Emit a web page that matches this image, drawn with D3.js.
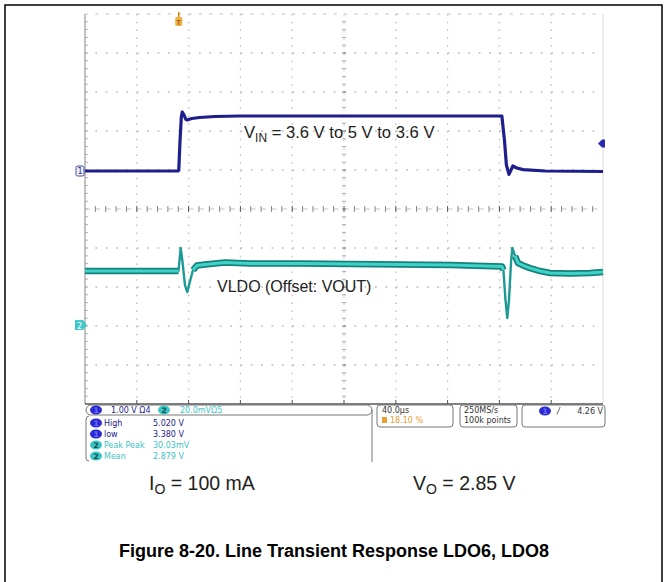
<!DOCTYPE html>
<html><head><meta charset="utf-8">
<script src="https://cdn.jsdelivr.net/npm/d3@7"></script>
<style>html,body{margin:0;padding:0;background:#fff;} svg{display:block;}</style>
</head><body><svg id="c" width="668" height="582"></svg>
<script>
// ---------- data ----------
// Channel 1: VIN, time in µs (40 µs/div, trigger at 18.10 %), volts
const vinTime  = [-72.4, -0.6, 0, 1.0, 2.0, 2.7, 4.0, 5.5, 6.5, 10, 16, 28, 47, 100, 150, 200, 249.5, 251.5, 253, 255, 258, 261, 266, 283, 327.6];
const vinVolts = [3.38, 3.38, 3.40, 4.30, 5.00, 5.14, 5.05, 4.92, 4.90, 4.945, 4.975, 5.005, 5.02, 5.02, 5.02, 5.02, 5.02, 4.30, 3.56, 3.28, 3.53, 3.47, 3.42, 3.38, 3.365];
// Channel 2: VLDO (offset VOUT), mV above channel-2 reference, 20 mV/div
const vldoTime = [-72.4, -1.4, -0.2, 1.5, 2.9, 4.8, 6.6, 8.3, 11, 14, 20.2, 35.7, 55, 93.6, 132.2, 170.8, 209.4, 249.6, 250.7, 252.3, 253.7, 255, 256.6, 257.6, 259.7, 262, 266.6, 271.3, 279, 286.7, 302.2, 317.6, 327.6];
const vldoMv   = [27.7, 27.7, 27.7, 39.5, 32.3, 20.5, 16.9, 21.5, 28.2, 30.5, 31.0, 32.1, 31.5, 31.5, 31.3, 31.0, 30.8, 30.0, 28.2, 12.8, 3.6, 12.8, 32.3, 39.5, 35.4, 31.8, 30.3, 29.2, 27.7, 26.7, 26.4, 26.7, 27.2];
// fast transient windows (µs) drawn as a thin line instead of the noise band
const spikeWindows = [[-0.2, 11], [250.7, 259.7]];

const chanSettings = ["1.00 V Ω4", "20.0mVΩ5"];
const measChannel  = [1, 1, 2, 2];
const measLabels   = ["High", "low", "Peak  Peak", "Mean"];
const measValues   = ["5.020 V", "3.380 V", "30.03mV", "2.879 V"];
const timeBase     = ["40.0µs", "18.10 %"];
const acqInfo      = ["250MS/s", "100k points"];
const trigLevel    = "4.26 V";

const annoVin  = {main: "V", sub: "IN", rest: " = 3.6 V to 5 V to 3.6 V"};
const annoVldo = "VLDO (Offset: VOUT)";
const condIo   = {main: "I", sub: "O", rest: " = 100 mA"};
const condVo   = {main: "V", sub: "O", rest: " = 2.85 V"};
const caption  = "Figure 8-20. Line Transient Response LDO6, LDO8";

// ---------- scales ----------
const L = 85, R = 603, T = 14, B = 404;
const svg = d3.select("#c");
svg.append("rect").attr("width", 668).attr("height", 582).attr("fill", "#fff");

const xDiv = d3.scaleLinear().domain([0, 10]).range([L, R]);
const yDiv = d3.scaleLinear().domain([0, 10]).range([B, T]);
const x = d3.scaleLinear().domain([-72.4, 327.6]).range([L, R]);
const y1 = d3.scaleLinear().domain([-3.567, 8.061]).range([B, T]);
const y2 = d3.scaleLinear().domain([-40.5, 159.5]).range([B, T]);

// outer figure border
svg.append("path").attr("d", "M5,582V5H662V582").attr("fill", "none").attr("stroke", "#000").attr("stroke-width", 1.5);

// ---------- graticule ----------
const g = svg.append("g");
const stepX = (R - L) / 50, stepY = (B - T) / 50;
d3.range(1, 10).filter(i => i !== 5).forEach(i => {
  g.append("line").attr("x1", xDiv(i)).attr("x2", xDiv(i)).attr("y1", T).attr("y2", B)
    .attr("stroke", "#bdbdbd").attr("stroke-width", 1.3).attr("stroke-dasharray", `1.5 ${stepY - 1.5}`);
  g.append("line").attr("y1", yDiv(i)).attr("y2", yDiv(i)).attr("x1", L).attr("x2", R)
    .attr("stroke", "#bdbdbd").attr("stroke-width", 1.3).attr("stroke-dasharray", `1.8 ${stepX - 1.8}`);
});
g.append("line").attr("x1", L).attr("x2", R).attr("y1", T).attr("y2", T)
  .attr("stroke", "#bdbdbd").attr("stroke-width", 1.2).attr("stroke-dasharray", `3 ${stepX - 3}`);
g.append("line").attr("x1", R).attr("x2", R).attr("y1", T).attr("y2", B).attr("stroke", "#dcdcdc");
// center lines with ticks
g.append("line").attr("x1", L).attr("x2", R).attr("y1", yDiv(5)).attr("y2", yDiv(5))
  .attr("stroke", "#c4c4c4").attr("stroke-dasharray", "5 5.36");
g.append("line").attr("x1", xDiv(5)).attr("x2", xDiv(5)).attr("y1", T).attr("y2", B)
  .attr("stroke", "#cfcfcf").attr("stroke-dasharray", "3 4.8");
d3.range(1, 50).forEach(k => {
  g.append("line").attr("x1", L + k * stepX).attr("x2", L + k * stepX).attr("y1", yDiv(5) - 3).attr("y2", yDiv(5) + 3)
    .attr("stroke", k % 5 === 0 ? "#555" : "#888").attr("stroke-width", 1);
  g.append("line").attr("y1", T + k * stepY).attr("y2", T + k * stepY).attr("x1", xDiv(5) - 2).attr("x2", xDiv(5) + 2)
    .attr("stroke", k % 5 === 0 ? "#777" : "#aaa").attr("stroke-width", 1);
  g.append("line").attr("y1", T + k * stepY).attr("y2", T + k * stepY).attr("x1", L).attr("x2", L + 3)
    .attr("stroke", "#b0b0b0").attr("stroke-width", 1);
});
g.append("line").attr("x1", L).attr("x2", L).attr("y1", T).attr("y2", B).attr("stroke", "#9a9a9a").attr("stroke-width", 1.2);
g.append("line").attr("x1", L).attr("x2", R).attr("y1", B).attr("y2", B).attr("stroke", "#555").attr("stroke-width", 1.3);
d3.range(1, 10).forEach(i => {
  g.append("line").attr("x1", xDiv(i)).attr("x2", xDiv(i)).attr("y1", B - 4).attr("y2", B).attr("stroke", "#555");
});

// ---------- traces ----------
const line = d3.line().x(d => x(d[0])).y(d => d[1]);
const ch2 = vldoTime.map((t, i) => [t, y2(vldoMv[i])]);
const inSpike = t => spikeWindows.some(w => t > w[0] && t < w[1]);
const bandLine = d3.line().defined(d => !inSpike(d[0])).x(d => x(d[0])).y(d => d[1]);
svg.append("path").attr("d", line(ch2)).attr("fill", "none").attr("stroke", "#1d9a94").attr("stroke-width", 2.4).attr("stroke-linejoin", "round");
svg.append("path").attr("d", bandLine(ch2)).attr("fill", "none").attr("stroke", "#15807c").attr("stroke-width", 6.5).attr("stroke-linejoin", "round");
svg.append("path").attr("d", bandLine(ch2)).attr("fill", "none").attr("stroke", "#3fd2c6").attr("stroke-width", 3).attr("stroke-linejoin", "round");
svg.append("path").attr("d", line(ch2.filter(d => inSpike(d[0])))).attr("fill", "none").attr("stroke", "#35c4bb").attr("stroke-width", 1.2).attr("opacity", 0);
const ch1 = vinTime.map((t, i) => [t, y1(vinVolts[i])]);
svg.append("path").attr("d", line(ch1)).attr("fill", "none").attr("stroke", "#1e1e8c").attr("stroke-width", 3.2).attr("stroke-linejoin", "round");

// ---------- markers ----------
const tx = x(0);
svg.append("line").attr("x1", tx).attr("x2", tx).attr("y1", 12).attr("y2", 18).attr("stroke", "#c98a1a").attr("stroke-width", 1.5);
svg.append("rect").attr("x", tx - 3.5).attr("y", 17).attr("width", 7).attr("height", 9).attr("rx", 1.5).attr("fill", "#f0b040");
svg.append("text").attr("x", tx).attr("y", 24.5).attr("text-anchor", "middle").attr("font-size", 7).attr("font-family", "DejaVu Sans").attr("fill", "#7a4a00").text("T");
svg.append("rect").attr("x", 76).attr("y", y1(3.38) - 5).attr("width", 8).attr("height", 10).attr("rx", 1.5)
  .attr("fill", "#eef0ff").attr("stroke", "#4a4a9a").attr("stroke-width", 1);
svg.append("text").attr("x", 80).attr("y", y1(3.38) + 3.5).attr("text-anchor", "middle").attr("font-size", 8).attr("font-family", "DejaVu Sans").attr("fill", "#2a2a8a").text("1");
svg.append("path").attr("d", `M75,${y2(0) - 5}H83L87,${y2(0)}L83,${y2(0) + 5}H75Z`).attr("fill", "#40c8c8");
svg.append("text").attr("x", 79.5).attr("y", y2(0) + 3.5).attr("text-anchor", "middle").attr("font-size", 8).attr("font-family", "DejaVu Sans").attr("fill", "#fff").text("2");
const ty = y1(4.26) + 2;
svg.append("path").attr("d", `M${R - 5},${ty}L${R - 1},${ty - 4}H${R + 2}V${ty + 4}H${R - 1}Z`).attr("fill", "#2a2ab0");

// ---------- annotations ----------
function subText(sel, d, xx, yy, size, weight) {
  const t = sel.append("text").attr("x", xx).attr("y", yy).attr("font-family", "'Liberation Sans', Arial, sans-serif")
    .attr("font-size", size).attr("font-weight", weight || "normal").attr("fill", "#222");
  t.append("tspan").text(d.main);
  t.append("tspan").attr("font-size", size * 0.72).attr("dy", size * 0.22).text(d.sub);
  t.append("tspan").attr("dy", -size * 0.22).text(d.rest);
  return t;
}
subText(svg, annoVin, 244, 138, 16.6);
svg.append("text").attr("x", 217).attr("y", 292).attr("font-family", "'Liberation Sans', Arial, sans-serif")
  .attr("font-size", 16).attr("fill", "#222").text(annoVldo);

// ---------- status bar ----------
const sb = svg.append("g").attr("font-family", "'DejaVu Sans', sans-serif").attr("font-size", 8);
const navy = "#1c1c8c", blueBadge = "#2a2ad0", teal = "#3cc4c4";
sb.append("rect").attr("x", 86).attr("y", 405).attr("width", 286).attr("height", 10).attr("rx", 5).attr("fill", "#fff").attr("stroke", "#777");
sb.append("path").attr("d", "M89,416Q86,416 86,420V458Q86,461 89,461").attr("fill", "none").attr("stroke", "#777");
sb.append("line").attr("x1", 372).attr("x2", 372).attr("y1", 410).attr("y2", 462).attr("stroke", "#777");
function badge(cx, cy, ch) {
  sb.append("ellipse").attr("cx", cx).attr("cy", cy).attr("rx", 6).attr("ry", 4.6).attr("fill", ch === 1 ? blueBadge : teal);
  sb.append("text").attr("x", cx).attr("y", cy + 3).attr("text-anchor", "middle").attr("font-size", 7.5)
    .attr("fill", ch === 1 ? "#6f6fff" : "#0b4d4d").attr("font-weight", "bold").text(ch);
}
badge(96, 410, 1);
sb.append("text").attr("x", 111).attr("y", 413).attr("fill", navy).text(chanSettings[0]);
badge(164, 410, 2);
sb.append("text").attr("x", 180).attr("y", 413).attr("fill", teal).text(chanSettings[1]);
measLabels.forEach((lab, i) => {
  const cy = 423 + i * 11;
  const col = measChannel[i] === 1 ? navy : teal;
  badge(96, cy, measChannel[i]);
  sb.append("text").attr("x", 104).attr("y", cy + 3).attr("fill", col).text(lab);
  sb.append("text").attr("x", 153).attr("y", cy + 3).attr("fill", col).text(measValues[i]);
});
sb.append("rect").attr("x", 377).attr("y", 405).attr("width", 76).attr("height", 22).attr("rx", 3).attr("fill", "none").attr("stroke", "#777");
sb.append("text").attr("x", 382).attr("y", 413).attr("fill", "#333").text(timeBase[0]);
sb.append("rect").attr("x", 382).attr("y", 417).attr("width", 5).attr("height", 6).attr("fill", "#e8a030");
sb.append("text").attr("x", 390).attr("y", 423).attr("fill", "#e8a030").text(timeBase[1]);
sb.append("rect").attr("x", 460).attr("y", 405).attr("width", 57).attr("height", 22).attr("rx", 3).attr("fill", "none").attr("stroke", "#777");
sb.append("text").attr("x", 464).attr("y", 413).attr("fill", "#333").text(acqInfo[0]);
sb.append("text").attr("x", 464).attr("y", 423).attr("fill", "#333").text(acqInfo[1]);
sb.append("rect").attr("x", 522).attr("y", 405).attr("width", 83).attr("height", 22).attr("rx", 3).attr("fill", "none").attr("stroke", "#777");
badge(545, 411, 1);
sb.append("text").attr("x", 557).attr("y", 414).attr("fill", "#333").attr("font-style", "italic").text("/");
sb.append("text").attr("x", 603).attr("y", 414).attr("text-anchor", "end").attr("fill", "#333").text(trigLevel);

// ---------- conditions and caption ----------
subText(svg, condIo, 149, 490, 19.5);
subText(svg, condVo, 413, 490, 19.5);
svg.append("text").attr("x", 334).attr("y", 557).attr("text-anchor", "middle")
  .attr("font-family", "'Liberation Sans', Arial, sans-serif").attr("font-weight", "bold").attr("font-size", 18)
  .attr("fill", "#000").text(caption);
</script>
</body></html>
